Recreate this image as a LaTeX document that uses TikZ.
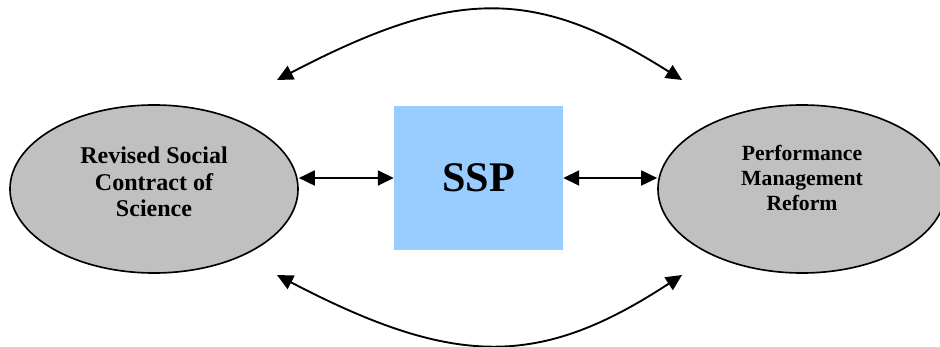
\documentclass[tikz,border=0pt]{standalone}
\usepackage{fontspec}
\setmainfont{Liberation Serif}
\usetikzlibrary{arrows.meta,shapes.geometric}
\definecolor{ovalgray}{HTML}{C0C0C0}
\definecolor{sspblue}{HTML}{99CCFF}
\begin{document}
\begin{tikzpicture}[x=0.03cm,y=-0.03cm,
    oval/.style={ellipse,draw,line width=1.4pt,fill=ovalgray,minimum width=8.64cm,minimum height=5.04cm,inner sep=0pt},
    ovaltext/.style={align=center,font=\bfseries},
    link/.style={line width=1.6pt,{Triangle[length=0.48cm,width=0.45cm]}-{Triangle[length=0.48cm,width=0.45cm]}}]
    \useasboundingbox (0,0) rectangle (940,347);
    \node[oval] (rsc) at (154,189) {}; % 左边的椭圆
    \node[ovaltext,font=\fontsize{20.5}{22.5}\selectfont\bfseries] (rsc-t) at ([yshift=0.21cm]rsc.center) {Revised Social\\Contract of\\Science};
    \node[oval] (pmr) at (802,189) {}; % 右边的椭圆
    \node[ovaltext,font=\fontsize{18.5}{21.7}\selectfont\bfseries] (pmr-t) at ([yshift=0.33cm]pmr.center) {Performance\\Management\\Reform};
    \node[fill=sspblue,minimum width=5.07cm,minimum height=4.32cm,inner sep=0pt,
          font=\fontsize{36}{40}\selectfont\bfseries] (ssp) at (478.5,178) {SSP};

    \draw[link] (ssp.west -| rsc.east) -- (ssp.west);
    \draw[link] (ssp.east) -- (ssp.east -| pmr.west);

    \coordinate (tl) at (277,80); \coordinate (tr) at (682,80);
    \coordinate (bl) at (277,275); \coordinate (br) at (682,275);
    \draw[link] (tl) .. controls (455,-13) and (535,-13) .. (tr); % 上面的弧线
    \draw[link] (bl) .. controls (455,368) and (540,368) .. (br); % 下面的弧线
\end{tikzpicture}
\end{document}
